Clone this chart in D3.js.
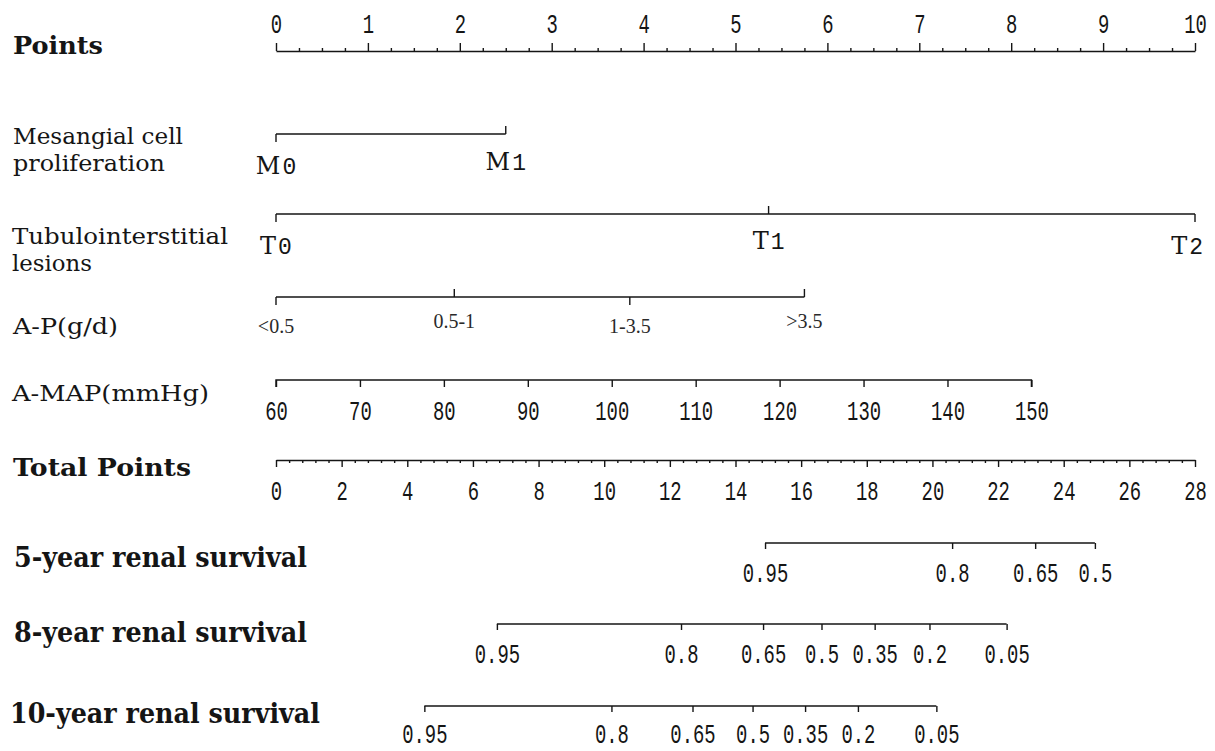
<!DOCTYPE html>
<html>
<head>
<meta charset="utf-8">
<script src="https://cdn.jsdelivr.net/npm/d3@7"></script>
<style>
  body { margin: 0; background: #fff; }
  svg { display: block; }
</style>
</head>
<body>
<div id="chart"></div>
<script>
// values
const pointsTicks = d3.range(0, 11, 1);
const pointsMinor = d3.range(0, 10.01, 0.25).filter(d => d % 1 !== 0);

const mesangialLevels = ["M0", "M1"];
const mesangialPoints = [0, 2.5];

const tubuloLevels = ["T0", "T1", "T2"];
const tubuloPoints = [0, 5.36, 10];

const apLevels = ["<0.5", "0.5-1", "1-3.5", ">3.5"];
const apPoints = [0, 1.94, 3.85, 5.75];

const mapTicks = d3.range(60, 151, 10);
const mapDomain = [60, 150];
const mapPointsRange = [0, 8.22];

const totalTicks = d3.range(0, 29, 2);
const totalMinor = d3.range(0, 28.01, 0.4).filter(d => Math.abs(d / 2 - Math.round(d / 2)) > 0.01);

const surv5Labels = ["0.95", "0.8", "0.65", "0.5"];
const surv5Totals = [14.90, 20.60, 23.13, 24.95];
const surv8Labels = ["0.95", "0.8", "0.65", "0.5", "0.35", "0.2", "0.05"];
const surv8Totals = [6.73, 12.34, 14.84, 16.62, 18.24, 19.91, 22.26];
const surv10Labels = ["0.95", "0.8", "0.65", "0.5", "0.35", "0.2", "0.05"];
const surv10Totals = [4.52, 10.22, 12.69, 14.52, 16.12, 17.73, 20.12];

// layout
const width = 1215, height = 751;
const ink = "#151515";
const monoFont = "'Liberation Mono', 'DejaVu Sans Mono', monospace";
const serifFont = "'DejaVu Serif', serif";
const rowY = { points: 51, mes: 134, tub: 214, ap: 297, map: 380, total: 460, s5: 543, s8: 624, s10: 706 };

const svg = d3.select("#chart").append("svg")
  .attr("width", width)
  .attr("height", height);

const x = d3.scaleLinear().domain([0, 10]).range([276, 1195]);
const xTotal = d3.scaleLinear().domain([0, 28]).range([276, 1195]);
const xMap = d3.scaleLinear().domain(mapDomain).range(mapPointsRange.map(x));

// left labels
const leftLabels = [
  { lines: ["Points"], bold: true, y: [54], x: 13, w: [90], size: 25 },
  { lines: ["Mesangial cell", "proliferation"], bold: false, y: [144, 171], x: 13, w: [170, 152], size: 23 },
  { lines: ["Tubulointerstitial", "lesions"], bold: false, y: [244, 271], x: 12, w: [216, 80], size: 23 },
  { lines: ["A-P(g/d)"], bold: false, y: [334], x: 13, w: [105], size: 23 },
  { lines: ["A-MAP(mmHg)"], bold: false, y: [401], x: 12, w: [197], size: 23 },
  { lines: ["Total Points"], bold: true, y: [476], x: 13, w: [178], size: 25 },
  { lines: ["5-year renal survival"], bold: true, y: [567], x: 14, w: [293], size: 27 },
  { lines: ["8-year renal survival"], bold: true, y: [642], x: 14, w: [293], size: 27 },
  { lines: ["10-year renal survival"], bold: true, y: [723], x: 10, w: [310], size: 27 }
];

leftLabels.forEach(l => {
  l.lines.forEach((t, i) => {
    svg.append("text")
      .attr("x", l.x)
      .attr("y", l.y[i])
      .attr("font-family", serifFont)
      .attr("font-weight", l.bold ? "bold" : "normal")
      .attr("font-size", l.size)
      .attr("fill", ink)
      .attr("textLength", l.w[i])
      .attr("lengthAdjust", "spacingAndGlyphs")
      .text(t);
  });
});

function styleAxis(g, labelY) {
  g.attr("color", ink);
  g.selectAll("path, line").attr("stroke-width", 1.4);
  g.selectAll("text")
    .attr("font-family", monoFont)
    .attr("font-size", 27)
    .attr("dy", null)
    .attr("y", labelY)
    .attr("transform", "scale(0.7,1)");
}

// Points axis (ticks up, labels above)
const gPts = svg.append("g").attr("transform", `translate(0,${rowY.points})`)
  .call(d3.axisTop(x).tickValues(pointsTicks).tickSize(8).tickSizeOuter(0).tickFormat(d3.format("d")));
styleAxis(gPts, -18);
svg.append("g").attr("transform", `translate(0,${rowY.points})`)
  .call(d3.axisTop(x).tickValues(pointsMinor).tickSize(3).tickFormat(""))
  .call(g => g.select(".domain").remove())
  .call(g => styleAxis(g, 0));

// categorical axes: ticks alternate down / up
function catAxis(y, levels, pts, labelFn, downOff, upOff) {
  const g = svg.append("g").attr("transform", `translate(0,${y})`);
  g.append("line")
    .attr("x1", x(d3.min(pts))).attr("x2", x(d3.max(pts)))
    .attr("stroke", ink).attr("stroke-width", 1.4);
  g.selectAll("line.tick")
    .data(pts)
    .join("line")
    .attr("class", "tick")
    .attr("x1", d => x(d)).attr("x2", d => x(d))
    .attr("y1", 0)
    .attr("y2", (d, i) => i % 2 === 0 ? 8 : -8)
    .attr("stroke", ink).attr("stroke-width", 1.4);
  const t = g.selectAll("text")
    .data(levels)
    .join("text")
    .attr("x", (d, i) => x(pts[i]))
    .attr("y", (d, i) => i % 2 === 0 ? downOff : upOff)
    .attr("text-anchor", "middle")
    .attr("fill", ink);
  t.each(function (d) {
    labelFn(d3.select(this), d);
    // keep the last label inside the plot edge
    const b = this.getBBox();
    if (b.x + b.width > 1203) d3.select(this).attr("dx", 1203 - (b.x + b.width));
  });
}

function gradeLabel(sel, d) {
  sel.append("tspan").attr("font-family", serifFont).attr("font-size", 24).text(d[0]);
  sel.append("tspan").attr("font-family", monoFont).attr("font-size", 23).attr("dx", 2).text(d.slice(1));
}
function apLabel(sel, d) {
  sel.attr("font-family", "'Liberation Serif', serif").attr("font-size", 20).attr("fill", "#2a2a2a").text(d);
}

catAxis(rowY.mes, mesangialLevels, mesangialPoints, gradeLabel, 40, 36);
catAxis(rowY.tub, tubuloLevels, tubuloPoints, gradeLabel, 40, 35);
catAxis(rowY.ap, apLevels, apPoints, apLabel, 36, 31);

// A-MAP axis
const gMap = svg.append("g").attr("transform", `translate(0,${rowY.map})`)
  .call(d3.axisBottom(xMap).tickValues(mapTicks).tickSize(7).tickSizeOuter(0).tickFormat(d3.format("d")));
gMap.select(".domain").attr("d", `M${xMap(mapDomain[0])},7V0H${xMap(mapDomain[1])}V7`);
styleAxis(gMap, 40);

// Total points axis
const gTot = svg.append("g").attr("transform", `translate(0,${rowY.total})`)
  .call(d3.axisBottom(xTotal).tickValues(totalTicks).tickSize(7).tickSizeOuter(0).tickFormat(d3.format("d")));
styleAxis(gTot, 40);
svg.append("g").attr("transform", `translate(0,${rowY.total})`)
  .call(d3.axisBottom(xTotal).tickValues(totalMinor).tickSize(3).tickFormat(""))
  .call(g => g.select(".domain").remove())
  .call(g => styleAxis(g, 0));

// survival axes: line only spans the labelled range
function survAxis(y, labels, totals, labelY) {
  const g = svg.append("g").attr("transform", `translate(0,${y})`)
    .call(d3.axisBottom(xTotal).tickValues(totals).tickSize(6).tickSizeOuter(0)
      .tickFormat((d, i) => labels[i]));
  g.select(".domain").attr("d", `M${xTotal(d3.min(totals))},0H${xTotal(d3.max(totals))}`);
  styleAxis(g, labelY);
}
survAxis(rowY.s5, surv5Labels, surv5Totals, 39);
survAxis(rowY.s8, surv8Labels, surv8Totals, 39);
survAxis(rowY.s10, surv10Labels, surv10Totals, 37);
</script>
</body>
</html>
